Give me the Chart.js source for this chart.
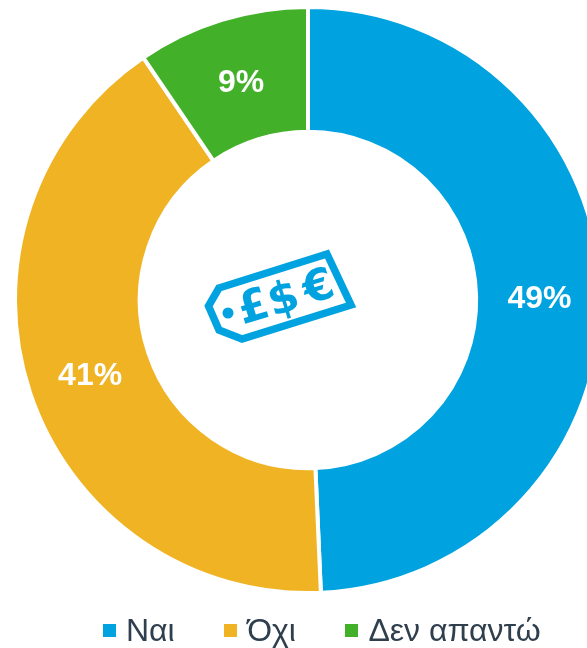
<!DOCTYPE html>
<html>
<head>
<meta charset="utf-8">
<script src="https://cdn.jsdelivr.net/npm/chart.js@4"></script>
<style>
    html, body { margin: 0; padding: 0; width: 587px; height: 648px; overflow: hidden; background: #fff; }
    #wrap { position: relative; width: 587px; height: 648px; overflow: hidden; }
    canvas { position: absolute; left: 0; top: 0; }
    #legend { position: absolute; left: 103px; top: 612px; display: flex; font: 32px "Liberation Sans", Arial, sans-serif; color: #2f3f4d; line-height: 36px; }
    .item { display: flex; align-items: center; margin-right: 49.5px; white-space: nowrap; }
    .item i { width: 13px; height: 13px; margin-right: 10px; display: block; }
</style>
</head>
<body>
<div id="wrap">
    <canvas id="donut" width="616" height="648"></canvas>
    <div id="legend"></div>
</div>
<script>
const categories = ['Ναι', 'Όχι', 'Δεν απαντώ'];
const shares = [49.3, 41.2, 9.5];
const shareLabels = ['49%', '41%', '9%'];
const colors = ['#00a3e0', '#f0b323', '#43b02a'];
const iconBlue = '#00a3e0';

// Percent labels in the middle of each ring segment
const sliceLabels = {
    id: 'sliceLabels',
    afterDatasetsDraw(chart) {
        const ctx = chart.ctx;
        ctx.save();
        ctx.fillStyle = '#fff';
        ctx.font = 'bold 32px "Liberation Sans", Arial, sans-serif';
        ctx.textAlign = 'center';
        ctx.textBaseline = 'middle';
        chart.getDatasetMeta(0).data.forEach((arc, i) => {
            const pos = arc.tooltipPosition();
            ctx.fillText(shareLabels[i], pos.x + 1, pos.y + 4);
        });
        ctx.restore();
    }
};

// Price tag icon in the hole
const priceTag = {
    id: 'priceTag',
    afterDraw(chart) {
        const ctx = chart.ctx;
        ctx.save();
        ctx.strokeStyle = iconBlue;
        ctx.fillStyle = iconBlue;
        ctx.lineWidth = 7.5;
        ctx.lineJoin = 'miter';
        ctx.beginPath();
        ctx.moveTo(219, 288);
        ctx.lineTo(327, 254);
        ctx.lineTo(351, 305);
        ctx.lineTo(242, 339);
        ctx.lineTo(219, 330);
        ctx.lineTo(208.5, 306);
        ctx.closePath();
        ctx.stroke();
        ctx.beginPath();
        ctx.arc(228, 313, 5.5, 0, Math.PI * 2);
        ctx.fill();
        ctx.font = 'bold 44px "DejaVu Sans", sans-serif';
        ctx.textAlign = 'center';
        ctx.textBaseline = 'middle';
        [['£', 254, 309], ['$', 284, 301], ['€', 319, 289]].forEach(([ch, x, y]) => {
            ctx.save();
            ctx.translate(x, y);
            ctx.rotate(-17 * Math.PI / 180);
            ctx.fillText(ch, 0, 0);
            ctx.restore();
        });
        ctx.restore();
    }
};

new Chart(document.getElementById('donut').getContext('2d'), {
    type: 'doughnut',
    data: {
        labels: categories,
        datasets: [{
            data: shares,
            backgroundColor: colors,
            borderColor: '#fff',
            borderWidth: 4
        }]
    },
    options: {
        responsive: false,
        animation: false,
        cutout: '57.4%',
        layout: { padding: { top: 5, bottom: 53, left: 0, right: 0 } },
        plugins: {
            legend: { display: false },
            tooltip: { enabled: false }
        }
    },
    plugins: [sliceLabels, priceTag]
});

const legend = document.getElementById('legend');
categories.forEach((name, i) => {
    legend.innerHTML += `<span class="item"><i style="background:${colors[i]}"></i>${name}</span>`;
});
</script>
</body>
</html>
